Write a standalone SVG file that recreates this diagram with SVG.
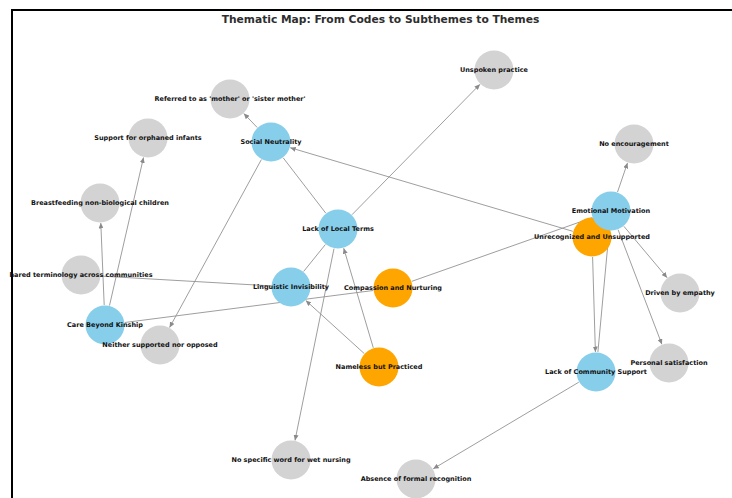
<svg xmlns="http://www.w3.org/2000/svg" width="732" height="498" viewBox="0 0 732 498">
  <defs>
    <marker id="arrow" markerUnits="userSpaceOnUse" markerWidth="6" markerHeight="5" refX="5.5" refY="2.5" orient="auto">
      <path d="M0,0 L5.5,2.5 L0,5 Z" fill="#8a8a8a"/>
    </marker>
  </defs>
  <style>
    .frame { fill: none; stroke: #000; stroke-width: 2; }
    .title { font-family: "DejaVu Sans", sans-serif; font-weight: bold; font-size: 10.7px; fill: #2e2e2e; text-anchor: middle; }
    .edge { stroke: #939393; stroke-width: 0.9; fill: none; }
    .arr { marker-end: url(#arrow); }
    .code { fill: #d3d3d3; }
    .sub { fill: #87ceeb; }
    .theme { fill: #ffa500; }
    .lbl { font-family: "DejaVu Sans", sans-serif; font-weight: bold; font-size: 6.5px; fill: #111; text-anchor: middle; dominant-baseline: central; }
  </style>

  <rect width="732" height="498" fill="#fff"/>
  <rect class="frame" x="12" y="10" width="740" height="500"/>
  <text class="title" x="380.5" y="23">Thematic Map: From Codes to Subthemes to Themes</text>

  <!-- connectors -->
  <g id="edges">
    <line class="edge arr" x1="257.2" y1="127.5" x2="243.8" y2="113.5"/>
    <line class="edge arr" x1="109.5" y1="305.5" x2="143.5" y2="157.5"/>
    <line class="edge arr" x1="104.2" y1="305.0" x2="100.8" y2="223.0"/>
    <line class="edge" x1="271.0" y1="285.9" x2="101.0" y2="276.1"/>
    <line class="edge" x1="373.2" y1="290.5" x2="124.8" y2="322.5"/>
    <line class="edge" x1="411.9" y1="281.3" x2="592.1" y2="217.7"/>
    <line class="edge arr" x1="572.8" y1="231.3" x2="290.2" y2="147.7"/>
    <line class="edge" x1="283.2" y1="157.8" x2="325.8" y2="213.2"/>
    <line class="edge arr" x1="261.4" y1="159.5" x2="169.6" y2="327.5"/>
    <line class="edge arr" x1="352.0" y1="214.7" x2="480.0" y2="84.3"/>
    <line class="edge" x1="325.4" y1="244.5" x2="303.6" y2="271.5"/>
    <line class="edge arr" x1="334.0" y1="248.6" x2="295.0" y2="440.4"/>
    <line class="edge arr" x1="373.3" y1="347.8" x2="343.7" y2="248.2"/>
    <line class="edge arr" x1="364.2" y1="353.5" x2="305.8" y2="300.5"/>
    <line class="edge arr" x1="617.5" y1="192.1" x2="627.5" y2="162.9"/>
    <line class="edge arr" x1="623.9" y1="226.3" x2="667.1" y2="277.7"/>
    <line class="edge arr" x1="618.1" y1="229.7" x2="661.9" y2="344.3"/>
    <line class="edge arr" x1="592.6" y1="257.0" x2="595.4" y2="352.0"/>
    <line class="edge" x1="609.1" y1="230.9" x2="597.9" y2="352.1"/>
    <line class="edge arr" x1="578.8" y1="382.2" x2="433.2" y2="468.8"/>
  </g>

  <!-- codes -->
  <g id="n-referred"><circle class="code" cx="230" cy="99" r="19.5"/></g>
  <g id="n-orphaned"><circle class="code" cx="148" cy="138" r="19.5"/></g>
  <g id="n-breastfeeding"><circle class="code" cx="100" cy="203" r="19.5"/></g>
  <g id="n-unspoken"><circle class="code" cx="494" cy="70" r="19.5"/></g>
  <g id="n-no-encouragement"><circle class="code" cx="634" cy="144" r="19.5"/></g>
  <g id="n-empathy"><circle class="code" cx="680" cy="293" r="19.5"/></g>
  <g id="n-satisfaction"><circle class="code" cx="669" cy="363" r="19.5"/></g>
  <g id="n-shared-terms"><circle class="code" cx="81" cy="275" r="19.5"/></g>
  <g id="n-neither"><circle class="code" cx="160" cy="345" r="19.5"/></g>
  <g id="n-no-word"><circle class="code" cx="291" cy="460" r="19.5"/></g>
  <g id="n-absence"><circle class="code" cx="416" cy="479" r="19.5"/></g>

  <!-- themes -->
  <g id="n-compassion"><circle class="theme" cx="393" cy="288" r="19.5"/></g>
  <g id="n-nameless"><circle class="theme" cx="379" cy="367" r="19.5"/></g>
  <g id="n-unrecognized"><circle class="theme" cx="592" cy="237" r="19.5"/></g>

  <!-- subthemes -->
  <g id="n-social"><circle class="sub" cx="271" cy="142" r="19.5"/></g>
  <g id="n-local-terms"><circle class="sub" cx="338" cy="229" r="19.5"/></g>
  <g id="n-linguistic"><circle class="sub" cx="291" cy="287" r="19.5"/></g>
  <g id="n-emotional"><circle class="sub" cx="611" cy="211" r="19.5"/></g>
  <g id="n-community"><circle class="sub" cx="596" cy="372" r="19.5"/></g>
  <g id="n-care"><circle class="sub" cx="105" cy="325" r="19.5"/></g>

  <!-- labels -->
  <g id="labels">
    <text class="lbl" x="230" y="99">Referred to as 'mother' or 'sister mother'</text>
    <text class="lbl" x="148" y="138">Support for orphaned infants</text>
    <text class="lbl" x="100" y="203">Breastfeeding non-biological children</text>
    <text class="lbl" x="494" y="70">Unspoken practice</text>
    <text class="lbl" x="634" y="144">No encouragement</text>
    <text class="lbl" x="680" y="293">Driven by empathy</text>
    <text class="lbl" x="669" y="363">Personal satisfaction</text>
    <text class="lbl" x="81" y="275">hared terminology across communities</text>
    <text class="lbl" x="160" y="345">Neither supported nor opposed</text>
    <text class="lbl" x="291" y="460">No specific word for wet nursing</text>
    <text class="lbl" x="416" y="479">Absence of formal recognition</text>
    <text class="lbl" x="393" y="288">Compassion and Nurturing</text>
    <text class="lbl" x="379" y="367">Nameless but Practiced</text>
    <text class="lbl" x="592" y="237">Unrecognized and Unsupported</text>
    <text class="lbl" x="271" y="142">Social Neutrality</text>
    <text class="lbl" x="338" y="229">Lack of Local Terms</text>
    <text class="lbl" x="291" y="287">Linguistic Invisibility</text>
    <text class="lbl" x="611" y="211">Emotional Motivation</text>
    <text class="lbl" x="596" y="372">Lack of Community Support</text>
    <text class="lbl" x="105" y="325">Care Beyond Kinship</text>
  </g>
</svg>
